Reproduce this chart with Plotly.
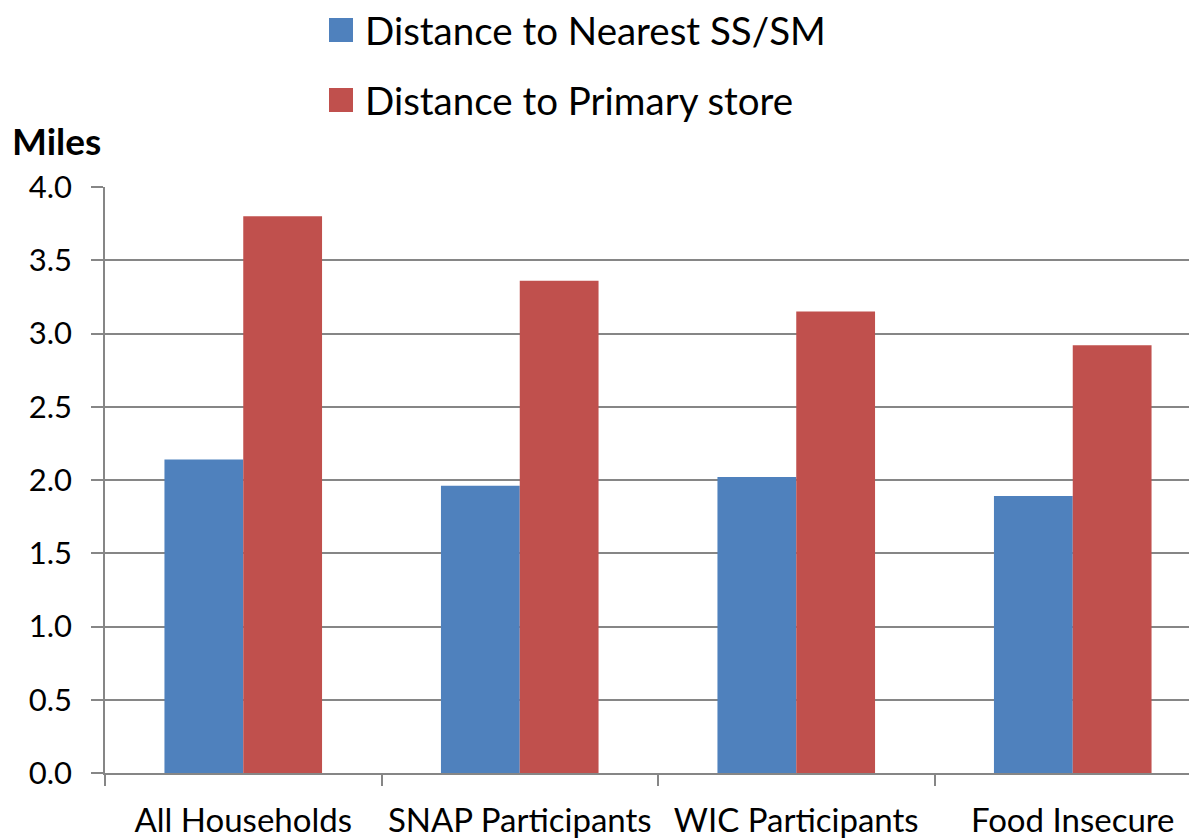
import plotly.graph_objects as go

categories = ["All Households", "SNAP Participants", "WIC Participants", "Food Insecure"]
series_names = ["Distance to Nearest SS/SM", "Distance to Primary store"]
nearest = [2.14, 1.96, 2.02, 1.89]
primary = [3.80, 3.36, 3.15, 2.92]
colors = ["#4F81BD", "#C0504D"]
y_ticks = [0.0, 0.5, 1.0, 1.5, 2.0, 2.5, 3.0, 3.5, 4.0]

FONT = "Lato"
W, H = 1197, 839
OFF = 8  # page offset of the figure
ml, mr, mt, mb = 105 - OFF, OFF, 187 - OFF, 66 + OFF
plot_w = W - ml - mr
plot_h = H - mt - mb

fig = go.Figure()
for name, vals, col in zip(series_names, [nearest, primary], colors):
    fig.add_trace(go.Bar(x=categories, y=vals, name=name, marker_color=col,
                         marker_line_width=0, showlegend=False))

cat_w = 276.5
x_max = -0.5 + plot_w / cat_w


def px_x(x):
    return (x - OFF - ml) / plot_w


def px_y(y):
    return (H - mb - (y - OFF)) / plot_h


fig.update_layout(
    width=W, height=H,
    margin=dict(l=ml, r=mr, t=mt, b=mb),
    plot_bgcolor="white", paper_bgcolor="white",
    barmode="group", bargap=0.43, bargroupgap=0,
    font=dict(family=FONT, size=31, color="black"),
    xaxis=dict(range=[-0.5, x_max], tickson="boundaries", ticks="outside",
               ticklen=11, tickcolor="#868686", tickwidth=1.5,
               showline=True, linecolor="#868686", linewidth=1.5,
               showgrid=False, tickfont=dict(size=33, family=FONT),
               ticklabelstandoff=18),
    yaxis=dict(range=[0, 4], tickvals=y_ticks, ticktext=[f"{v:.1f}" for v in y_ticks],
               ticks="outside", ticklen=12, tickcolor="#868686", tickwidth=1.5,
               showline=True, linecolor="#868686", linewidth=1.5,
               showgrid=True, gridcolor="#868686", gridwidth=1.5,
               zeroline=False, tickfont=dict(size=31, family=FONT),
               ticklabelstandoff=13),
)

leg_y = [30, 100]
for name, col, yy in zip(series_names, colors, leg_y):
    fig.add_shape(type="rect", xref="paper", yref="paper",
                  x0=px_x(329), x1=px_x(353),
                  y0=px_y(yy + 12), y1=px_y(yy - 12),
                  fillcolor=col, line_width=0)
    fig.add_annotation(text=name, xref="paper", yref="paper",
                       x=px_x(363), y=px_y(yy),
                       xanchor="left", yanchor="middle", showarrow=False,
                       font=dict(size=38.5, family=FONT, color="black"))

fig.add_annotation(text="<b>Miles</b>", xref="paper", yref="paper",
                   x=px_x(10), y=px_y(140),
                   xanchor="left", yanchor="middle", showarrow=False,
                   font=dict(size=37, family=FONT, color="black"))

fig.write_html("out.html")
